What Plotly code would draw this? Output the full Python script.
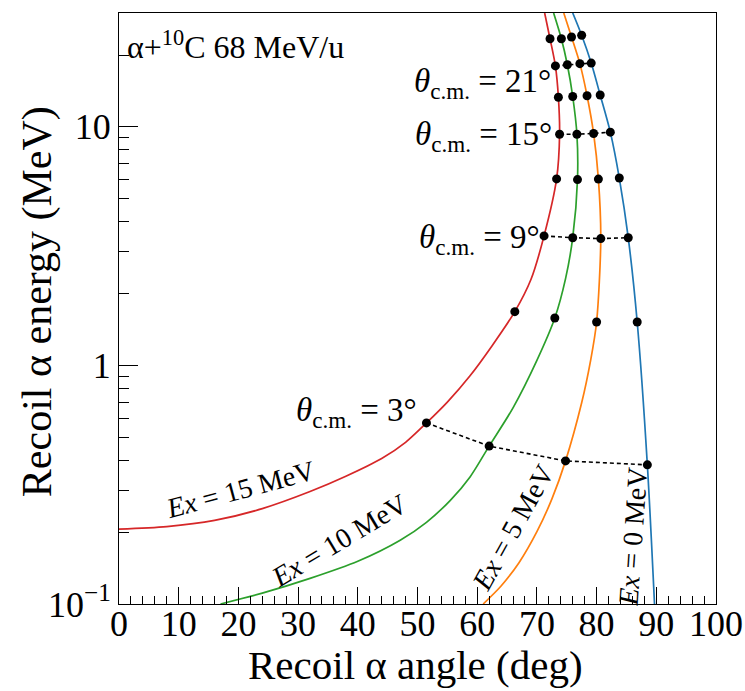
import plotly.graph_objects as go

# Kinematic curves (recoil angle in deg, recoil energy in MeV)
ang_ex15 = [0, 8, 16, 24, 32, 38, 44, 48, 51.5, 55, 58.8, 62.5, 66.3, 69, 71.2, 73.3, 73.8, 73.6, 73.1, 72.2, 71.3]
e_ex15 = [0.206, 0.211, 0.224, 0.251, 0.296, 0.343, 0.407, 0.476, 0.574, 0.702, 0.905, 1.21, 1.68, 2.29, 3.49,
          6.05, 9.31, 13.3, 18.0, 23.4, 30.0]

ang_ex10 = [17, 24, 32, 40, 47.1, 51.5, 55.5, 58.8, 62.0, 66, 70, 73.0, 74.8, 76.0, 76.8, 76.7, 76.0, 75.1, 74.1, 72.8]
e_ex10 = [0.1, 0.111, 0.128, 0.151, 0.185, 0.220, 0.272, 0.341, 0.459, 0.664, 1.05, 1.58, 2.31, 3.43, 6.01, 9.31,
          13.4, 18.2, 23.4, 30.0]

ang_ex5 = [61, 64, 67, 70, 72.5, 74.8, 77.5, 79.0, 80.0, 80.7, 80.3, 79.5, 78.4, 77.2, 75.8, 74.5]
e_ex5 = [0.1, 0.119, 0.149, 0.201, 0.275, 0.398, 0.697, 1.05, 1.52, 3.40, 6.04, 9.38, 13.5, 18.4, 23.8, 30.0]

ang_ex0 = [89.7, 88.5, 86.8, 85.3, 83.8, 82.3, 80.6, 79.1, 77.5, 76.0]
e_ex0 = [0.1, 0.383, 1.52, 3.43, 6.10, 9.50, 13.6, 18.5, 24.2, 30.0]

# Marker points at theta_cm = 3, 6, 9, ..., 24 deg
theta_cm = [3, 6, 9, 12, 15, 18, 21, 24]
dot_ang_ex15 = [51.5, 66.3, 71.2, 73.3, 73.8, 73.6, 73.1, 72.2]
dot_e_ex15 = [0.574, 1.68, 3.49, 6.05, 9.31, 13.3, 18.0, 23.4]
dot_ang_ex10 = [62.0, 73.0, 76.0, 76.8, 76.7, 76.0, 75.1, 74.1]
dot_e_ex10 = [0.459, 1.58, 3.43, 6.01, 9.31, 13.4, 18.2, 23.4]
dot_ang_ex5 = [74.8, 80.0, 80.7, 80.3, 79.5, 78.4, 77.2, 75.8]
dot_e_ex5 = [0.398, 1.52, 3.40, 6.04, 9.38, 13.5, 18.4, 23.8]
dot_ang_ex0 = [88.5, 86.8, 85.3, 83.8, 82.3, 80.6, 79.1, 77.5]
dot_e_ex0 = [0.383, 1.52, 3.43, 6.10, 9.50, 13.6, 18.5, 24.2]
linked_theta = [3, 9, 15, 21]

x_ticks = list(range(0, 101, 10))

curves = [
    (ang_ex15, e_ex15, "#d62728"),
    (ang_ex10, e_ex10, "#2ca02c"),
    (ang_ex5, e_ex5, "#ff7f0e"),
    (ang_ex0, e_ex0, "#1f77b4"),
]
dots = [
    (dot_ang_ex15, dot_e_ex15),
    (dot_ang_ex10, dot_e_ex10),
    (dot_ang_ex5, dot_e_ex5),
    (dot_ang_ex0, dot_e_ex0),
]

FONT = "Liberation Serif"
fig = go.Figure()

for a, e, c in curves:
    fig.add_trace(go.Scatter(x=a, y=e, mode="lines", line=dict(color=c, width=1.7, shape="spline", smoothing=0.8),
                             showlegend=False, hoverinfo="skip"))

for th in linked_theta:
    i = theta_cm.index(th)
    fig.add_trace(go.Scatter(x=[d[0][i] for d in dots], y=[d[1][i] for d in dots], mode="lines",
                             line=dict(color="black", width=1.6, dash="4px,3px"), showlegend=False,
                             hoverinfo="skip"))

for da, de in dots:
    fig.add_trace(go.Scatter(x=da, y=de, mode="markers", marker=dict(color="black", size=9),
                             showlegend=False, hoverinfo="skip"))

L, R, T, B = 118.7, 715.7, 13.3, 604.0
W, H = 745, 691

def px(x):
    return (x - L) / (R - L)

def py(y):
    return (B - y) / (B - T)

anns = []
anns.append(dict(text="Recoil α angle (deg)", x=px(415), y=py(665), font=dict(size=41)))
anns.append(dict(text="Recoil α energy (MeV)", x=px(38), y=py(302), textangle=-90, font=dict(size=42)))
anns.append(dict(text="α+<sup>10</sup>C 68 MeV/u", x=px(125), y=py(45), xanchor="left", font=dict(size=32)))
for txt, xr, yc in [("21°", 553, 84), ("15°", 554, 137), ("9°", 542, 240), ("3°", 419, 413)]:
    anns.append(dict(text="<i>θ</i><sub>c.m.</sub> = " + txt, x=px(xr), y=py(yc), xanchor="right",
                     font=dict(size=33)))
for txt, xc, yc, ang in [("15", 240, 490, -15), ("10", 339, 541, -31), ("5", 513, 528, -61), ("0", 633, 537, -86)]:
    anns.append(dict(text="<i>Ex</i> = " + txt + " MeV", x=px(xc), y=py(yc), textangle=ang, font=dict(size=28)))

for a in anns:
    a.setdefault("xanchor", "center")
    a["yanchor"] = "middle"
    a["xref"] = "paper"
    a["yref"] = "paper"
    a["showarrow"] = False
    a["font"]["family"] = FONT
    a["font"]["color"] = "black"

fig.update_layout(
    width=W, height=H, autosize=False,
    margin=dict(l=L, r=W - R, t=T, b=H - B, pad=0, autoexpand=False),
    paper_bgcolor="white", plot_bgcolor="white",
    font=dict(family=FONT, color="black", size=36),
    annotations=anns,
    xaxis=dict(range=[0, 100], tickvals=x_ticks, ticks="inside", ticklen=17, tickwidth=1, automargin=False,
               tickcolor="black", showline=True, linecolor="black", linewidth=1, mirror=True,
               showgrid=False, zeroline=False, tickfont=dict(size=36), ticklabelstandoff=-12,
               minor=dict(tickvals=[v for v in range(2, 100, 2) if v % 10 != 0], ticks="inside", ticklen=8,
                          tickcolor="black", tickwidth=1, showgrid=False)),
    yaxis=dict(type="log", range=[-1, 1.4771], tickvals=[0.1, 1, 10], ticktext=["10<sup>−1</sup>", "1", "10"],
               ticks="inside", ticklen=19, tickwidth=1, tickcolor="black", showline=True, linecolor="black",
               linewidth=1, mirror=True, showgrid=False, zeroline=False, tickfont=dict(size=36), automargin=False,
               minor=dict(tickvals=[m * 10 ** k for k in (-1, 0, 1) for m in range(2, 10) if m * 10 ** k <= 30],
                          ticks="inside", ticklen=10, tickcolor="black", tickwidth=1, showgrid=False)),
)

fig.write_html("out.html")
